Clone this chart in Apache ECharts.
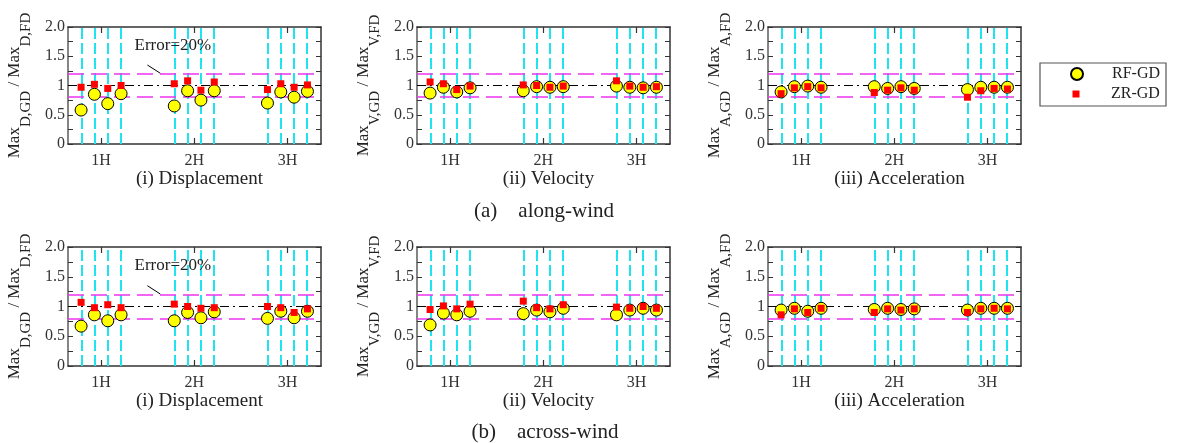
<!DOCTYPE html>
<html><head><meta charset="utf-8">
<script src="https://cdn.jsdelivr.net/npm/echarts@6/dist/echarts.min.js"></script>
<style>html,body{margin:0;padding:0;background:#fff}#chart{width:1179px;height:443px}</style>
</head><body><div id="chart"></div>
<script>
// ---------- data ----------
const categories = ['1H', '2H', '3H'];
const seriesNames = ['RF-GD', 'ZR-GD'];
const yTickValues = [0, 0.5, 1, 1.5, 2];
const yTickLabels = ['0', '0.5', '1', '1.5', '2.0'];
const errorBounds = [0.8, 1.2];
const unityLine = 1.0;
const panelTitles = ['(i) Displacement', '(ii) Velocity', '(iii) Acceleration'];
const rowTitles = ['(a)    along-wind', '(b)    across-wind'];
const quantities = ['D', 'V', 'A'];
const annotationText = 'Error=20%';

// along-wind
const rfAlongDisp = [0.58, 0.85, 0.69, 0.86, 0.65, 0.91, 0.75, 0.91, 0.70, 0.89, 0.80, 0.90];
const zrAlongDisp = [0.97, 1.02, 0.95, 1.00, 1.03, 1.08, 0.92, 1.06, 0.93, 1.03, 0.97, 1.01];
const rfAlongVel  = [0.87, 0.97, 0.89, 0.96, 0.91, 0.98, 0.97, 0.98, 0.99, 0.97, 0.96, 0.97];
const zrAlongVel  = [1.06, 1.03, 0.93, 0.99, 1.01, 1.00, 0.97, 0.99, 1.08, 0.99, 0.97, 0.98];
const rfAlongAcc  = [0.89, 0.98, 0.99, 0.97, 0.98, 0.95, 0.98, 0.95, 0.93, 0.97, 0.97, 0.97];
const zrAlongAcc  = [0.86, 0.96, 0.98, 0.96, 0.88, 0.92, 0.96, 0.92, 0.80, 0.91, 0.95, 0.94];
// across-wind
const rfAcrossDisp = [0.67, 0.86, 0.76, 0.86, 0.76, 0.90, 0.81, 0.91, 0.80, 0.92, 0.81, 0.92];
const zrAcrossDisp = [1.07, 0.98, 1.03, 0.98, 1.04, 1.00, 0.97, 0.98, 1.00, 0.98, 0.90, 0.96];
const rfAcrossVel  = [0.69, 0.89, 0.86, 0.92, 0.88, 0.94, 0.91, 0.97, 0.86, 0.94, 0.97, 0.94];
const zrAcrossVel  = [0.95, 1.01, 0.96, 1.04, 1.09, 0.98, 0.96, 1.03, 0.99, 0.97, 1.00, 0.97];
const rfAcrossAcc  = [0.94, 0.97, 0.92, 0.97, 0.95, 0.97, 0.95, 0.96, 0.94, 0.97, 0.97, 0.97];
const zrAcrossAcc  = [0.86, 0.96, 0.90, 0.97, 0.90, 0.96, 0.94, 0.96, 0.90, 0.96, 0.97, 0.96];

// ---------- layout / style ----------
const FONT = 'Liberation Serif';
const casesPerGroup = 4;
const pointSpacing = 0.143;
const xMin = 0.645, xMax = 3.36;
const colLeft = [68, 417, 768];
const gridW = 253;
const rowTop = [27, 247];
const rowH = [117, 119];

const positions = [];
categories.forEach((c, g) => {
  for (let k = 0; k < casesPerGroup; k++) positions.push(g + 1 + (k - (casesPerGroup - 1) / 2) * pointSpacing);
});

const panels = [
  {rf: rfAlongDisp, zr: zrAlongDisp, row: 0, col: 0, annot: true},
  {rf: rfAlongVel, zr: zrAlongVel, row: 0, col: 1},
  {rf: rfAlongAcc, zr: zrAlongAcc, row: 0, col: 2},
  {rf: rfAcrossDisp, zr: zrAcrossDisp, row: 1, col: 0, annot: true},
  {rf: rfAcrossVel, zr: zrAcrossVel, row: 1, col: 1},
  {rf: rfAcrossAcc, zr: zrAcrossAcc, row: 1, col: 2}
];

const grid = [], xAxis = [], yAxis = [], series = [];
const axisCol = '#333';

panels.forEach((p, i) => {
  grid.push({left: colLeft[p.col], top: rowTop[p.row], width: gridW, height: rowH[p.row]});
  const q = quantities[p.col];
  xAxis.push({
    type: 'value', gridIndex: i, min: xMin, max: xMax, position: 'bottom',
    axisLine: {show: true, onZero: false, lineStyle: {color: axisCol, width: 1.5}},
    axisTick: {show: true, inside: true, length: 6, customValues: [1, 2, 3], lineStyle: {color: axisCol, width: 1.2}},
    axisLabel: {customValues: [1, 2, 3], formatter: v => categories[Math.round(v) - 1], fontSize: 16, margin: 9, color: '#333', fontFamily: FONT},
    splitLine: {show: false},
    name: panelTitles[p.col], nameLocation: 'middle', nameGap: 26,
    nameTextStyle: {fontSize: 19, color: '#222', fontFamily: FONT, padding: [0, 0, 0, 10]}
  });
  xAxis.push({
    type: 'value', gridIndex: i, min: xMin, max: xMax, position: 'top',
    axisLine: {show: true, onZero: false, lineStyle: {color: axisCol, width: 1.5}},
    axisTick: {show: true, inside: true, length: 6, customValues: [1, 2, 3], lineStyle: {color: axisCol, width: 1.2}},
    axisLabel: {show: false}, splitLine: {show: false}
  });
  yAxis.push({
    type: 'value', gridIndex: i, min: 0, max: 2, interval: 0.25, position: 'left',
    axisLine: {show: true, onZero: false, lineStyle: {color: '#666', width: 1.6}},
    axisTick: {show: true, inside: true, length: 5, lineStyle: {color: axisCol}},
    axisLabel: {customValues: yTickValues, formatter: v => yTickLabels[yTickValues.indexOf(v)] ?? '', fontSize: 16, margin: 3, color: '#333', fontFamily: FONT},
    splitLine: {show: false},
    name: `{m|Max}{s|${q},GD}{m| / Max}{s|${q},FD}`,
    nameLocation: 'middle', nameGap: 34, nameRotate: 90,
    nameTextStyle: {
      fontFamily: FONT, color: '#222',
      rich: {
        m: {fontSize: 17, lineHeight: 28, verticalAlign: 'top', fontFamily: FONT, color: '#222'},
        s: {fontSize: 15, lineHeight: 28, verticalAlign: 'bottom', fontFamily: FONT, color: '#222'}
      }
    }
  });
  yAxis.push({
    type: 'value', gridIndex: i, min: 0, max: 2, interval: 0.25, position: 'right',
    axisLine: {show: true, onZero: false, lineStyle: {color: axisCol, width: 1.5}},
    axisTick: {show: true, inside: true, length: 5, lineStyle: {color: axisCol}},
    axisLabel: {show: false}, splitLine: {show: false}
  });

  const mlData = [
    ...positions.map(x => ({xAxis: x, lineStyle: {color: '#1fe3ef', width: 2, type: [11, 4]}})),
    ...errorBounds.map(y => ({yAxis: y, lineStyle: {color: '#ee33ee', width: 1.5, type: [16, 7]}})),
    {yAxis: unityLine, lineStyle: {color: '#000', width: 1.2, type: [9, 4, 2, 4]}}
  ];
  if (p.annot) {
    const ls = {color: '#000', width: 1, type: 'solid'};
    mlData.push([{coord: [1.497, 1.35], lineStyle: ls}, {coord: [1.635, 1.21], lineStyle: ls}]);
  }
  series.push({
    type: 'scatter', xAxisIndex: 2 * i, yAxisIndex: 2 * i, data: [], z: 1, silent: true,
    markLine: {z: 1, silent: true, symbol: ['none', 'none'], animation: false, label: {show: false}, data: mlData},
    markPoint: p.annot ? {
      z: 1, silent: true, animation: false, symbol: 'circle', symbolSize: 1,
      itemStyle: {color: 'rgba(0,0,0,0)'},
      label: {show: true, position: 'inside', formatter: annotationText, fontSize: 17, color: '#222', fontFamily: FONT},
      data: [{coord: [1.77, 1.69]}]
    } : undefined
  });
  series.push({
    name: seriesNames[0], type: 'scatter', xAxisIndex: 2 * i, yAxisIndex: 2 * i, z: 6,
    symbol: 'circle', symbolSize: 12,
    itemStyle: {color: '#ffff00', borderColor: '#000', borderWidth: 1, opacity: 1},
    data: positions.map((x, k) => [x, p.rf[k]])
  });
  series.push({
    name: seriesNames[1], type: 'scatter', xAxisIndex: 2 * i, yAxisIndex: 2 * i, z: 7,
    symbol: 'rect', symbolSize: 7,
    itemStyle: {color: '#ff0000', opacity: 1},
    data: positions.map((x, k) => [x, p.zr[k]])
  });
});

const option = {
  animation: false,
  backgroundColor: '#fff',
  textStyle: {fontFamily: FONT},
  grid, xAxis, yAxis, series,
  legend: [
    {data: [seriesNames[0]], left: 1070, top: 66, padding: 0, itemWidth: 12, itemHeight: 12, selectedMode: false,
      textStyle: {fontSize: 16, color: '#222', fontFamily: FONT, padding: [0, 0, 0, 24]}},
    {data: [seriesNames[1]], left: 1072.5, top: 86, padding: 0, itemWidth: 7, itemHeight: 7, selectedMode: false,
      textStyle: {fontSize: 16, color: '#222', fontFamily: FONT, padding: [0, 0, 0, 26.5]}}
  ],
  graphic: [
    {type: 'rect', shape: {x: 1040, y: 63, width: 126, height: 43}, style: {fill: 'none', stroke: '#555', lineWidth: 1.2}, silent: true},
    {type: 'text', x: 544, y: 211, style: {text: rowTitles[0], fontSize: 21, fontFamily: FONT, fill: '#222', align: 'center', verticalAlign: 'middle'}},
    {type: 'text', x: 545, y: 432, style: {text: rowTitles[1], fontSize: 21, fontFamily: FONT, fill: '#222', align: 'center', verticalAlign: 'middle'}}
  ]
};

const chart = echarts.init(document.getElementById('chart'), null, {renderer: 'canvas'});
chart.setOption(option);
</script>
</body></html>
